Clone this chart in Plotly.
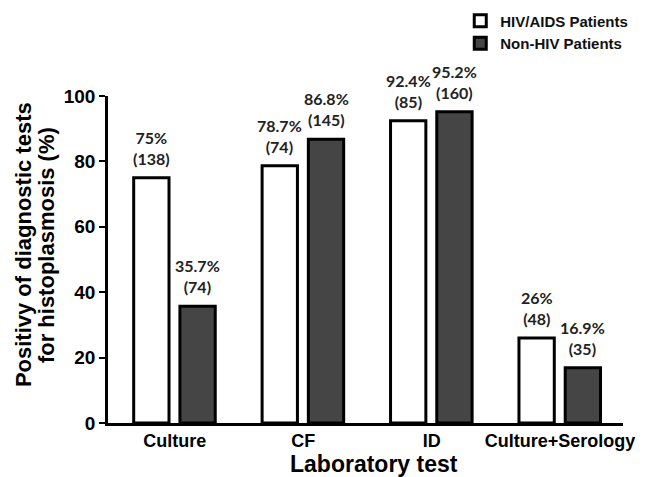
import plotly.graph_objects as go

categories = ["Culture", "CF", "ID", "Culture+Serology"]
hiv_pct = [75, 78.7, 92.4, 26]
hiv_n = [138, 74, 85, 48]
nonhiv_pct = [35.7, 86.8, 95.2, 16.9]
nonhiv_n = [74, 145, 160, 35]
hiv_lbl = ["75%", "78.7%", "92.4%", "26%"]
nonhiv_lbl = ["35.7%", "86.8%", "95.2%", "16.9%"]
y_ticks = [0, 20, 40, 60, 80, 100]
y_title_lines = ["Positivy of diagnostic tests", "for histoplasmosis (%)"]
x_title = "Laboratory test"

BAR_W = 0.275
OFF_HIV = -0.32
OFF_NON = 0.04

lbl_font = dict(family="Lato", size=16, color="#222", weight="bold")

fig = go.Figure()
fig.add_trace(go.Bar(
    x=categories, y=hiv_pct, name="HIV/AIDS Patients",
    marker=dict(color="white", line=dict(color="black", width=3)),
    width=BAR_W, offset=OFF_HIV,
))
fig.add_trace(go.Bar(
    x=categories, y=nonhiv_pct, name="Non-HIV Patients",
    marker=dict(color="#454545", line=dict(color="black", width=3)),
    width=BAR_W, offset=OFF_NON,
))

# value labels above bars, placed from the data
for series, lbls, ns, off in [(hiv_pct, hiv_lbl, hiv_n, OFF_HIV), (nonhiv_pct, nonhiv_lbl, nonhiv_n, OFF_NON)]:
    for i, (v, l, n) in enumerate(zip(series, lbls, ns)):
        fig.add_annotation(x=i + off + BAR_W / 2, y=v, xref="x", yref="y",
                           text=f"{l}<br>({n})", showarrow=False,
                           xanchor="center", yanchor="bottom", yshift=8,
                           font=lbl_font)

# page body has an 8px margin; compensate so the plot area sits at x 108-623, y 96-423
fig.update_layout(
    width=655, height=469,
    margin=dict(l=100, r=40, t=88, b=54, autoexpand=False),
    plot_bgcolor="white", paper_bgcolor="white",
    barmode="overlay",
    font=dict(family="Liberation Sans, Arial", color="black"),
    showlegend=True,
    legend=dict(x=0.684, y=1.28, xanchor="left", yanchor="top",
                font=dict(size=15, family="Liberation Sans, Arial", color="#111", weight="bold"),
                traceorder="normal", itemwidth=30,
                bgcolor="rgba(0,0,0,0)"),
)
fig.add_annotation(text=f"<b>{y_title_lines[0]}</b>", xref="paper", yref="paper",
                   x=0, y=0.544, xshift=-85, textangle=-90, showarrow=False,
                   xanchor="center", yanchor="middle", font=dict(size=22))
fig.add_annotation(text=f"<b>{y_title_lines[1]}</b>", xref="paper", yref="paper",
                   x=0, y=0.544, xshift=-62, textangle=-90, showarrow=False,
                   xanchor="center", yanchor="middle", font=dict(size=22))
fig.add_annotation(text=f"<b>{x_title}</b>", xref="paper", yref="paper",
                   x=0.5, y=0, xshift=8, yshift=-41, showarrow=False,
                   xanchor="center", yanchor="middle", font=dict(size=23))
fig.update_xaxes(
    range=[-0.52, 3.49], showline=True, linecolor="black", linewidth=2.5,
    ticks="", automargin=False,
    tickfont=dict(size=18, family="Liberation Sans, Arial", weight="bold"),
    showgrid=False,
)
fig.update_yaxes(
    range=[0, 100], tickvals=y_ticks, showline=True, linecolor="black", linewidth=2.5,
    ticks="outside", ticklen=6, tickwidth=2, tickcolor="black", automargin=False,
    tickfont=dict(size=19, family="Liberation Sans, Arial", weight="bold"),
    showgrid=False, zeroline=False,
)
fig.write_html("out.html")
